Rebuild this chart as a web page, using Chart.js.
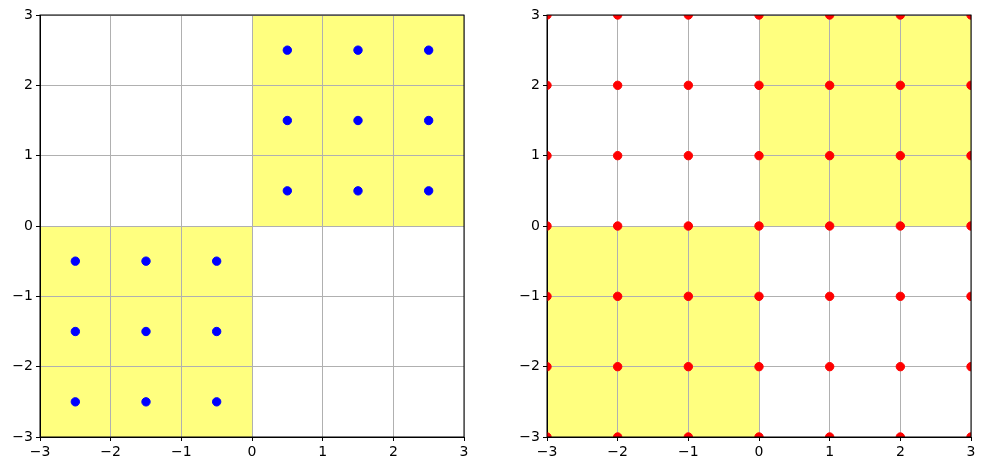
<!DOCTYPE html>
<html>
<head>
<meta charset="utf-8">
<script src="https://cdn.jsdelivr.net/npm/chart.js@4/dist/chart.umd.min.js"></script>
<style>
  body { margin: 0; background: #fff; }
  .box { position: absolute; top: 0; height: 471px; }
  #left { left: 0; width: 480px; }
  #right { left: 500px; width: 484px; }
</style>
</head>
<body>
<div class="box" id="left"><canvas id="c1"></canvas></div>
<div class="box" id="right"><canvas id="c2"></canvas></div>
<script>
// axis ticks
const tickValues = [-3, -2, -1, 0, 1, 2, 3];

// shaded squares: [xmin, xmax, ymin, ymax]
const shadeUpper = [0, 3, 0, 3];
const shadeLower = [-3, 0, -3, 0];

// left panel: blue points (cell centres inside shaded squares)
const blueX = [0.5, 1.5, 2.5, 0.5, 1.5, 2.5, 0.5, 1.5, 2.5,
               -2.5, -1.5, -0.5, -2.5, -1.5, -0.5, -2.5, -1.5, -0.5];
const blueY = [2.5, 2.5, 2.5, 1.5, 1.5, 1.5, 0.5, 0.5, 0.5,
               -0.5, -0.5, -0.5, -1.5, -1.5, -1.5, -2.5, -2.5, -2.5];

// right panel: red points on every grid crossing
const redCols = [-3, -2, -1, 0, 1, 2, 3];
const redRows = [-3, -2, -1, 0, 1, 2, 3];

function pts(xs, ys) {
    return xs.map((x, i) => ({ x: x, y: ys[i] }));
}
function gridPts(cols, rows) {
    let out = [];
    rows.forEach(y => cols.forEach(x => out.push({ x: x, y: y })));
    return out;
}

const shadePlugin = {
    id: 'shade',
    beforeDraw(chart) {
        const ctx = chart.ctx, xs = chart.scales.x, ys = chart.scales.y;
        ctx.save();
        ctx.fillStyle = 'rgba(255,255,0,0.5)';
        [shadeUpper, shadeLower].forEach(r => {
            const x0 = xs.getPixelForValue(r[0]), x1 = xs.getPixelForValue(r[1]);
            const y0 = ys.getPixelForValue(r[3]), y1 = ys.getPixelForValue(r[2]);
            ctx.fillRect(x0, y0, x1 - x0, y1 - y0);
        });
        ctx.restore();
    },
    afterDatasetsDraw(chart) {
        const a = chart.chartArea, ctx = chart.ctx;
        ctx.save();
        ctx.strokeStyle = '#000';
        ctx.lineWidth = 1;
        ctx.strokeRect(a.left, a.top, a.right - a.left, a.bottom - a.top);
        ctx.restore();
    }
};

const minus = v => String(v).replace('-', '\u2212');

function makeChart(id, data, color, yWidth, pad) {
    return new Chart(document.getElementById(id), {
        type: 'scatter',
        data: {
            datasets: [{
                data: data,
                backgroundColor: color,
                borderColor: color,
                borderWidth: 1,
                pointRadius: 4.2,
                clip: 0
            }]
        },
        options: {
            responsive: true,
            maintainAspectRatio: false,
            animation: false,
            layout: { padding: pad },
            plugins: { legend: { display: false }, tooltip: { enabled: false } },
            scales: {
                x: {
                    type: 'linear', min: -3, max: 3,
                    afterBuildTicks: s => { s.ticks = tickValues.map(v => ({ value: v })); },
                    afterFit: s => { s.height = 34; },
                    grid: { color: '#b0b0b0', tickColor: '#000', tickLength: 4 },
                    border: { color: '#000' },
                    ticks: { color: '#000', padding: 3, maxRotation: 0,
                             font: { family: 'DejaVu Sans', size: 14 }, callback: minus }
                },
                y: {
                    type: 'linear', min: -3, max: 3,
                    afterBuildTicks: s => { s.ticks = tickValues.map(v => ({ value: v })); },
                    afterFit: s => { s.width = yWidth; },
                    grid: { color: '#b0b0b0', tickColor: '#000', tickLength: 4 },
                    border: { color: '#000' },
                    ticks: { color: '#000', padding: 3,
                             font: { family: 'DejaVu Sans', size: 14 }, callback: minus }
                }
            }
        },
        plugins: [shadePlugin]
    });
}

makeChart('c1', pts(blueX, blueY), '#0000ff', 40, { top: 15, right: 16, bottom: 0, left: 0 });
makeChart('c2', gridPts(redCols, redRows), '#ff0000', 47, { top: 15, right: 13, bottom: 0, left: 0 });
</script>
</body>
</html>
